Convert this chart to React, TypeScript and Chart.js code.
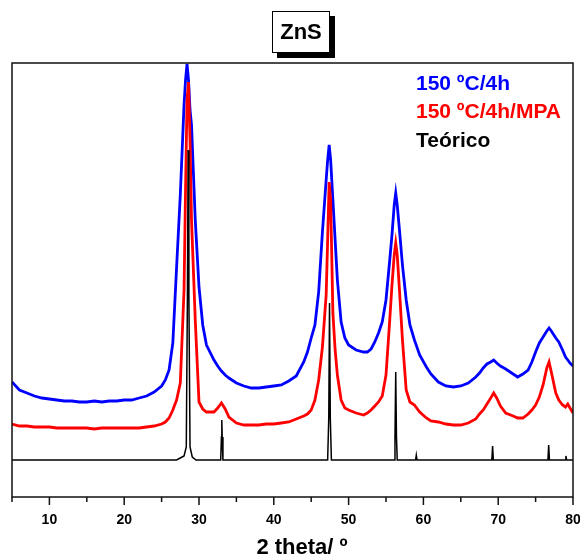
import React, { useEffect, useRef } from "react";
import { Chart, registerables } from "chart.js";

Chart.register(...registerables);

// 2θ sampling for the two measured patterns
const twoTheta = [
  5, 6, 7, 8, 9, 10, 11, 12, 13, 14, 15, 16, 17, 18, 19, 20, 21, 22, 23, 24, 25, 25.5, 26, 26.5, 27, 27.5,
  28, 28.2, 28.4, 28.6, 28.8, 29, 29.5, 30, 30.5, 31, 32, 32.5, 33, 33.5, 34, 35, 36, 37, 38, 39, 40, 41,
  42, 43, 44, 44.5, 45, 45.5, 46, 46.5, 47, 47.2, 47.4, 47.6, 47.9, 48.2, 48.5, 49, 49.5, 50, 51, 52, 52.5,
  53, 53.5, 54, 54.5, 55, 55.5, 55.8, 56.1, 56.3, 56.5, 56.8, 57.2, 57.7, 58.2, 58.8, 59.5, 60.4, 61, 62,
  63, 64, 65, 66, 67, 67.5, 68, 68.5, 69, 69.4, 69.8, 70.3, 71, 72, 72.6, 73.3, 74, 74.5, 75, 75.5, 76,
  76.5, 76.8, 77.1, 77.7, 78.1, 78.6, 79, 79.3, 79.6, 80,
];

// 150 ºC/4h (blue)
const sample4h = [
  115, 107, 104, 101, 99, 98, 97, 96, 96, 95, 95, 96, 95, 96, 96, 97, 97, 99, 101, 105, 111, 117, 127, 154, 229, 302,
  392, 417, 433, 417, 387, 372, 277, 210, 172, 152, 137, 131, 126, 122, 119, 114, 111, 109, 109, 110, 111, 112,
  116, 121, 135, 145, 159, 172, 205, 265, 317, 337, 352, 337, 297, 257, 217, 175, 159, 152, 147, 145, 145,
  148, 155, 164, 175, 197, 237, 262, 292, 304, 292, 267, 232, 197, 172, 157, 142, 130, 123, 115,
  111, 110, 111, 114, 120, 124, 129, 133, 135, 137, 134, 131, 128, 123, 120, 123, 127, 135, 145, 154, 160,
  166, 169, 166, 159, 155, 147, 140, 137, 134, 131,
];

// 150 ºC/4h/MPA (red)
const sampleMPA = [
  73, 71, 71, 70, 70, 70, 69, 69, 69, 69, 69, 68, 69, 69, 69, 69, 69, 69, 70, 71, 73, 75, 79, 87, 97, 114,
  207, 307, 397, 415, 357, 277, 177, 95, 88, 85, 85, 89, 94, 88, 80, 74, 72, 72, 72, 73, 73, 74,
  75, 78, 81, 83, 87, 97, 117, 150, 202, 257, 315, 297, 184, 147, 122, 97, 89, 87, 84, 82, 84,
  87, 91, 95, 101, 122, 177, 212, 242, 254, 242, 207, 157, 107, 95, 92, 85, 79, 76, 75,
  73, 72, 72, 74, 78, 83, 87, 93, 99, 104, 99, 91, 84, 81, 79, 79, 83, 87, 92, 100, 112,
  129, 135, 125, 104, 97, 92, 90, 93, 89, 84,
];

// Theoretical pattern (black)
const theoTheta = [
  5, 27, 27.5, 28.0, 28.3, 28.45, 28.55, 28.65, 28.8, 29.1, 29.6, 32.9, 33.0, 33.05, 33.1, 33.2,
  47.2, 47.35, 47.45, 47.55, 47.7, 56.1, 56.2, 56.3, 56.4, 56.5, 58.95, 59.05, 59.15,
  69.15, 69.25, 69.35, 76.65, 76.75, 76.85, 78.95, 79.05, 79.15, 80,
];
const theoretical = [
  37, 37, 39, 41, 50, 200, 347, 200, 50, 40, 37, 37, 60, 77, 60, 37,
  37, 80, 194, 80, 37, 37, 60, 125, 60, 37, 37, 42, 37,
  37, 51, 37, 37, 52, 37, 37, 41, 37, 37,
];

const majorTicks = [10, 20, 30, 40, 50, 60, 70, 80];
const minorTicks = [5, 15, 25, 35, 45, 55, 65, 75];
const seriesLabels = ["150 ºC/4h", "150 ºC/4h/MPA", "Teórico"];
const seriesColors = ["#0000ff", "#ff0000", "#000000"];
const chartTitle = "ZnS";
const xTitle = "2 theta/ º";

const FONT = "'Liberation Sans', Arial, sans-serif";

const framePlugin = {
  id: "frameTicks",
  afterDraw(chart: any) {
    const { ctx, chartArea, scales } = chart;
    const { left, right, top, bottom } = chartArea;
    const x = scales.x;
    ctx.save();
    ctx.strokeStyle = "#111";
    ctx.lineWidth = 1.5;
    ctx.strokeRect(left, top, right - left, bottom - top);
    ctx.beginPath();
    for (const v of majorTicks) {
      const px = x.getPixelForValue(v);
      ctx.moveTo(px, bottom);
      ctx.lineTo(px, bottom + 8);
    }
    for (const v of minorTicks) {
      const px = x.getPixelForValue(v);
      ctx.moveTo(px, bottom);
      ctx.lineTo(px, bottom + 5);
    }
    ctx.stroke();
    ctx.restore();
  },
};

export default function App() {
  const canvasRef = useRef<HTMLCanvasElement | null>(null);

  useEffect(() => {
    document.body.style.margin = "0";
    const canvas = canvasRef.current;
    if (!canvas) return;
    const toPts = (xs: number[], ys: number[]) => xs.map((v, i) => ({ x: v, y: ys[i] }));
    const chart = new Chart(canvas, {
      type: "line",
      data: {
        datasets: [
          {
            label: seriesLabels[2],
            data: toPts(theoTheta, theoretical),
            borderColor: seriesColors[2],
            borderWidth: 1.5,
            pointRadius: 0,
            tension: 0,
          },
          {
            label: seriesLabels[1],
            data: toPts(twoTheta, sampleMPA),
            borderColor: seriesColors[1],
            borderWidth: 2.8,
            pointRadius: 0,
            tension: 0,
          },
          {
            label: seriesLabels[0],
            data: toPts(twoTheta, sample4h),
            borderColor: seriesColors[0],
            borderWidth: 2.8,
            pointRadius: 0,
            tension: 0,
          },
        ],
      },
      options: {
        animation: false,
        responsive: false,
        events: [],
        layout: { padding: { left: 12, right: 7, top: 63, bottom: 0 } },
        plugins: {
          legend: { display: false },
          tooltip: { enabled: false },
          title: { display: false },
        },
        scales: {
          x: {
            type: "linear",
            min: 5,
            max: 80,
            afterBuildTicks: (scale: any) => {
              scale.ticks = majorTicks.map((v) => ({ value: v }));
            },
            afterFit: (scale: any) => {
              scale.height = 60;
              scale.paddingLeft = 0;
              scale.paddingRight = 0;
            },
            grid: { display: false, drawTicks: false },
            border: { display: false },
            ticks: {
              padding: 15,
              color: "#000",
              maxRotation: 0,
              autoSkip: false,
              font: { family: FONT, size: 14, weight: "bold" },
            },
            title: { display: false },
          },
          y: {
            type: "linear",
            min: 0,
            max: 434,
            display: false,
          },
        },
      },
      plugins: [framePlugin],
    });
    return () => chart.destroy();
  }, []);

  const legendTops = [72, 100, 128.5];

  return (
    <div style={{ position: "fixed", left: 0, top: 0, width: 580, height: 557, background: "#fff" }}>
      <canvas ref={canvasRef} width={580} height={557} style={{ display: "block", width: 580, height: 557 }} />
      <div
        style={{
          position: "absolute",
          left: 272,
          top: 11,
          width: 58,
          height: 42,
          boxSizing: "border-box",
          border: "1.5px solid #000",
          background: "#fff",
          boxShadow: "5px 5px 0 #000",
          display: "flex",
          alignItems: "center",
          justifyContent: "center",
          fontFamily: FONT,
          fontWeight: "bold",
          fontSize: 22,
          color: "#000",
        }}
      >
        {chartTitle}
      </div>
      <div
        style={{
          position: "absolute",
          left: 202,
          top: 536,
          width: 200,
          textAlign: "center",
          fontFamily: FONT,
          fontWeight: "bold",
          fontSize: 22,
          lineHeight: "22px",
          color: "#000",
          whiteSpace: "nowrap",
        }}
      >
        {xTitle}
      </div>
      {seriesLabels.map((t, i) => (
        <div
          key={t}
          style={{
            position: "absolute",
            left: 416,
            top: legendTops[i],
            fontFamily: FONT,
            fontWeight: "bold",
            fontSize: 21,
            lineHeight: "21px",
            color: seriesColors[i],
            whiteSpace: "nowrap",
          }}
        >
          {t}
        </div>
      ))}
    </div>
  );
}
